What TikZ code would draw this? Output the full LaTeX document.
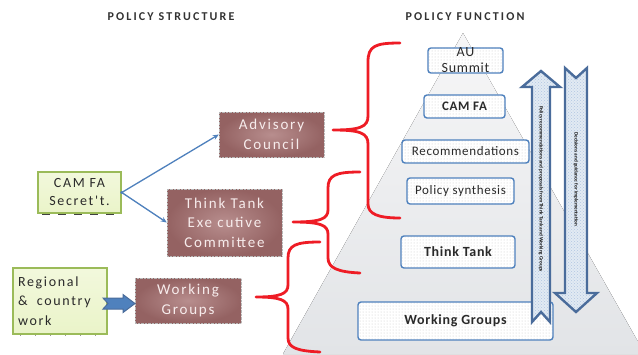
\documentclass[tikz,border=0pt]{standalone}
\usepackage{fontspec}
\setmainfont{Carlito}
\newfontfamily\spc[LetterSpace=12]{Carlito}
\newfontfamily\spcs[LetterSpace=5]{Carlito}
\newfontfamily\spch[LetterSpace=18]{Carlito}
\usetikzlibrary{patterns,arrows.meta}
\definecolor{brownIn}{HTML}{B88E8E}
\definecolor{brownOut}{HTML}{946262}
\definecolor{brownTxt}{HTML}{F7ECEC}
\definecolor{greenFill}{HTML}{EAF4C9}
\definecolor{greenTop}{HTML}{F2F8DC}
\definecolor{greenBorder}{HTML}{9BBB59}
\definecolor{blueLine}{HTML}{4F81BD}
\definecolor{arrowBorder}{HTML}{4A6C9B}
\definecolor{arrowFill}{HTML}{E2EAF3}
\definecolor{braceRed}{HTML}{EE1C25}
\definecolor{pyrTop}{HTML}{F6F6F7}
\definecolor{pyrBot}{HTML}{E2E4E7}
\definecolor{headTxt}{HTML}{333333}
\definecolor{boxTxt}{HTML}{2A2A2A}
\tikzset{
  brownbox/.style={draw=gray!55, densely dotted, inner color=brownIn, outer color=brownOut,
    text=brownTxt, font=\spc\fontsize{15}{19.5}\selectfont, align=center, inner sep=0pt},
  greenbox/.style={draw=greenBorder, line width=1.5pt, top color=greenTop, bottom color=greenFill,
    text=boxTxt, font=\spc\fontsize{14}{18}\selectfont, inner sep=0pt},
  pbox/.style={draw=blueLine, line width=1.4pt, rounded corners=3pt,
    preaction={fill=white}, pattern=dots, pattern color=black!22,
    text=boxTxt, align=center, inner sep=0pt},
  thinarrow/.style={draw=blueLine, line width=1.3pt, -{Stealth[length=6pt,width=5pt]}},
  redbrace/.style={draw=braceRed, line width=2.8pt, line join=round, line cap=round},
  fatarrow/.style={draw=arrowBorder, line width=2.4pt, line join=miter,
    preaction={fill=arrowFill}, pattern=crosshatch dots, pattern color=blueLine!45},
  heading/.style={text=headTxt, font=\spch\bfseries\fontsize{12}{14}\selectfont},
  tinytxt/.style={text=black!90, font=\bfseries\fontsize{5.2}{6}\selectfont, rotate=-90, inner sep=0pt}
}
\begin{document}
\begin{tikzpicture}[x=1pt,y=-1pt]
\useasboundingbox (0,0) rectangle (638,354);
\clip (0,0) rectangle (638,354);
\fill[white] (0,0) rectangle (638,354);
% pyramid
\fill[top color=pyrTop, bottom color=pyrBot] (463,33) -- (283,354) -- (645,354) -- cycle;

% headings
\node[heading] (hs) at (171,17) {POLICY STRUCTURE};
\node[heading] (hf) at (465,17) {POLICY FUNCTION};

% left structure
\node[brownbox, minimum width=105pt, minimum height=45pt] (adv) at (271.5,134.5) {Advisory\\Council};
\node[greenbox, align=center, minimum width=83pt, minimum height=41pt] (camfa) at (79.5,192.5) {CAM FA\\Secret't.};
\node[brownbox, minimum width=115pt, minimum height=67pt] (tte) at (224.5,222.5) {Think Tank\\Exe cutive\\Committee};
\node[greenbox, minimum width=94pt, minimum height=66pt, text width=84pt, align=left, font=\spc\fontsize{14}{19.5}\selectfont] (reg) at (60,301) {Regional\\\&\ \ country\\work};
\node[brownbox, minimum width=106pt, minimum height=45pt] (wgl) at (188,300.5) {Working\\Groups};

\draw[dash pattern=on 8pt off 8pt, line width=1.6pt, black!75] (42,214.5) -- (120,214.5);
\draw[dash pattern=on 1pt off 14pt, line width=0.8pt, black!40] (20,335.5) -- (105,335.5);

\draw[thinarrow] (camfa.east) -- (adv.west);
\draw[thinarrow] (camfa.east) -- (tte.west);
\fill[blueLine] (camfa.east) circle (1.6pt);

% block arrow regional -> working groups
\filldraw[fill=blueLine, draw=arrowBorder, line width=1pt, line join=miter]
  (103,298) -- (123,298) -- (123,294.5) -- (135,303.5) -- (123,312.5) -- (123,309) -- (103,309) -- (108,303.5) -- cycle;

% right function boxes
\node[pbox, minimum width=75pt, minimum height=25pt, font=\spcs\fontsize{14}{16}\selectfont] (au) at (465.5,60.5) {AU\\Summit};
\node[pbox, minimum width=81pt, minimum height=23pt, font=\spcs\bfseries\fontsize{13}{15}\selectfont] (camr) at (464.5,106.5) {CAM FA};
\node[pbox, minimum width=127pt, minimum height=23pt, font=\spcs\fontsize{13}{15}\selectfont] (rec) at (465.5,151.5) {Recommendations};
\node[pbox, minimum width=107pt, minimum height=26pt, font=\spcs\fontsize{13}{15}\selectfont] (syn) at (460.5,191) {Policy synthesis};
\node[pbox, minimum width=114pt, minimum height=32pt, font=\spcs\bfseries\fontsize{14}{16}\selectfont] (ttr) at (458,252) {Think Tank};
\node[pbox, minimum width=195pt, minimum height=38pt, font=\spcs\bfseries\fontsize{14}{16}\selectfont] (wgr) at (455.5,321) {Working Groups};

% up and down arrows
\path[fatarrow] (532,322) -- (532,87) -- (522,87) -- (541,71) -- (560,87) -- (550,87) -- (550,322) -- (541,312) -- cycle;
\path[fatarrow] (565,68) -- (576,78) -- (587,68) -- (587,293) -- (597,293) -- (576,312) -- (555,293) -- (565,293) -- cycle;
\node[tinytxt] (upt) at (541,189) {Policy recommendations and proposals from Think Tank and Working Groups};
\node[tinytxt] (dnt) at (576,179) {Decisions and guidance for implementation};

% red braces
\draw[redbrace] (400,43) .. controls (375,43) and (368,46) .. (368,62) -- (368,116)
  .. controls (368,127) and (360,130) .. (333,130)
  .. controls (360,130) and (368,133) .. (368,144) -- (368,204)
  .. controls (368,214) and (378,218) .. (400,218);
\draw[redbrace] (360,172) .. controls (336,172) and (328,175) .. (328,188) -- (328,210)
  .. controls (328,219) and (320,222) .. (293,222)
  .. controls (320,222) and (328,225) .. (328,234) -- (328,258)
  .. controls (328,268) and (338,272) .. (360,273);
\draw[redbrace] (320,242) .. controls (296,242) and (288,245) .. (288,258) -- (288,285)
  .. controls (288,294) and (280,297) .. (256,297)
  .. controls (280,297) and (288,300) .. (288,309) -- (288,338)
  .. controls (288,348) and (298,351) .. (320,352);
\end{tikzpicture}
\end{document}
